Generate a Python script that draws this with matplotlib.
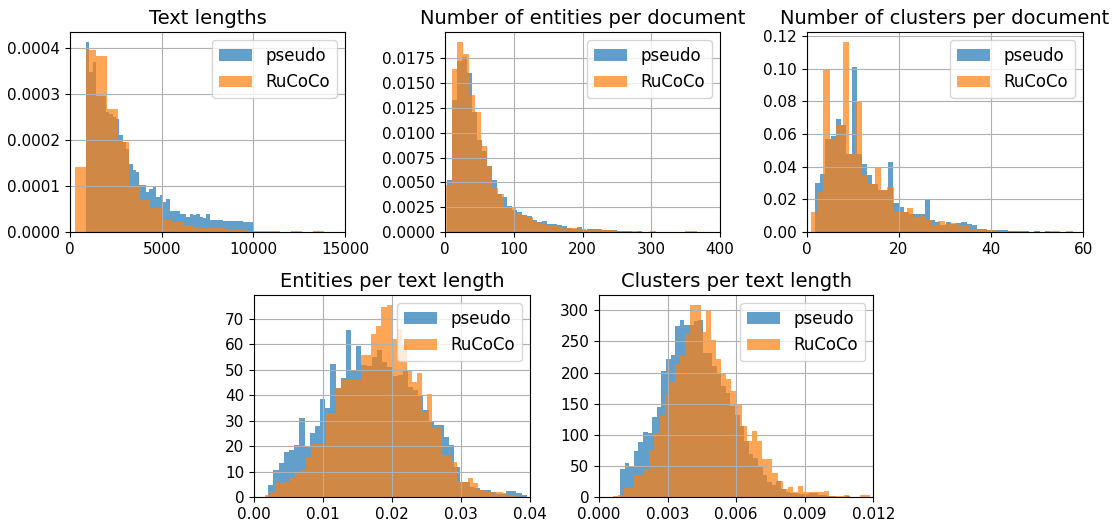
import numpy as np
import matplotlib
matplotlib.use("Agg")
import matplotlib.pyplot as plt

# bin heights (density histograms)
# text lengths
len_pseudo_start, len_pseudo_width = 862, 182.76
len_pseudo = np.array([
    4.14, 3.48, 3.70, 2.96, 2.96, 2.95, 2.60, 2.57, 2.50, 2.45,
    2.10, 1.96, 1.80, 1.48, 1.34, 1.30, 1.03, 1.03, 0.87, 0.93,
    0.98, 0.76, 0.80, 0.66, 0.71, 0.46, 0.46, 0.46, 0.39, 0.39,
    0.32, 0.40, 0.37, 0.39, 0.32, 0.31, 0.39, 0.25, 0.26, 0.25,
    0.26, 0.235, 0.235, 0.235, 0.235, 0.235, 0.235, 0.215, 0.215, 0.215]) * 1e-4
len_rucoco_start, len_rucoco_width = 258, 590
len_rucoco = np.array([
    1.41, 3.95, 3.83, 2.68, 1.96, 1.00, 0.69, 0.53, 0.264, 0.215,
    0.15, 0.107, 0.077, 0.077, 0.035, 0.035, 0.028, 0.028, 0.028, 0.0,
    0.028, 0.0, 0.028]) * 1e-4

# entities per document
ent_pseudo_start, ent_pseudo_width = 2.4, 7.3
ent_pseudo = [
    0.00525, 0.0133, 0.01726, 0.0176, 0.0160, 0.0121, 0.0093, 0.0082, 0.00668, 0.00529,
    0.0038, 0.0035, 0.0026, 0.0022, 0.0020, 0.0017, 0.0016, 0.0012, 0.0010, 0.0011,
    0.0008, 0.0008, 0.0007, 0.0006, 0.0004, 0.0003, 0.00055, 0.00025, 0.0003, 0.0003,
    0.0003, 0.0002, 0.0002, 0.0002, 0.00013, 0.00013, 0.00013, 0.0, 0.00013]
ent_rucoco_start, ent_rucoco_width = 1.0, 8.5
ent_rucoco = [
    0.00469, 0.0164, 0.0192, 0.0179, 0.01385, 0.0121, 0.0087, 0.0067, 0.0044, 0.0038,
    0.0025, 0.0024, 0.0019, 0.0016, 0.0015, 0.00105, 0.0008, 0.0006, 0.0006, 0.0005,
    0.0004, 0.0004, 0.0004, 0.0003, 0.00025, 0.00025, 0.0002, 0.0002, 0.0002, 0.00015,
    0.00013, 0.00013, 0.00013, 0.0, 0.0, 0.00013, 0.0, 0.0, 0.0, 0.0,
    0.0, 0.00013, 0.00013]

# clusters per document
clu_pseudo_start, clu_pseudo_width = 1.8, 1.1336
clu_pseudo = [
    0.030, 0.0352, 0.057, 0.0587, 0.0693, 0.0657, 0.0476, 0.1009, 0.048, 0.0416,
    0.0346, 0.0295, 0.026, 0.026, 0.0426, 0.0179, 0.0155, 0.0125, 0.011, 0.011,
    0.011, 0.0195, 0.0074, 0.0064, 0.0044, 0.0064, 0.005, 0.0055, 0.006, 0.0048,
    0.0044, 0.002, 0.002, 0.0015, 0.001, 0.001, 0.001, 0.0008, 0.0008, 0.0005,
    0.0005, 0.0, 0.0005, 0.0, 0.0005, 0.0, 0.0, 0.0, 0.0, 0.0]
clu_rucoco_start, clu_rucoco_width = 0.866, 1.386
clu_rucoco = [
    0.0125, 0.0245, 0.0995, 0.0567, 0.0657, 0.1166, 0.0476, 0.0802, 0.0346, 0.0295,
    0.040, 0.026, 0.0275, 0.012, 0.012, 0.0145, 0.009, 0.010, 0.0075, 0.0045,
    0.0065, 0.005, 0.0055, 0.004, 0.004, 0.002, 0.0015, 0.0015, 0.001, 0.0008,
    0.0008, 0.0008, 0.0008, 0.0, 0.0, 0.0, 0.0, 0.0008, 0.0008, 0.0,
    0.0008, 0.0]

# entities per text length
ept_pseudo_start, ept_pseudo_width = 0.002077, 0.000749
ept_pseudo = [
    4.8, 10.7, 13.6, 17.9, 18.5, 20.5, 31.3, 19.8, 25.4, 28,
    38.5, 35.2, 52.2, 43, 46.9, 65.7, 49.5, 59.3, 51.8, 51.4,
    55, 57.9, 53, 51, 47.5, 47.8, 49.5, 43.3, 42, 40,
    34.2, 29.6, 28.3, 28.3, 23.7, 20.5, 11.7, 6.1, 6.1, 4.2,
    3.5, 2.9, 2.9, 2.2, 1.3, 1.3, 2.5, 2.5, 1.8, 0.9]
ept_rucoco_start, ept_rucoco_width = 0.001594, 0.000734
ept_rucoco = [
    0.9, 2.2, 6.1, 5.5, 6.1, 7.4, 10, 10.7, 15.9, 20.9,
    20.9, 20.9, 32.9, 32.9, 43, 45.9, 45.9, 45.9, 45.9, 55.7,
    55.7, 64.1, 67.4, 74.8, 75.6, 62, 66, 59.6, 49.8, 45.2,
    48.8, 33.5, 40.4, 27.6, 27.6, 16.6, 16.6, 14, 6.1, 6.1,
    7.4, 5.5, 2.9, 2.5, 2, 2, 2, 1.6, 0.9, 0.9]

# clusters per text length
cpt_pseudo_start, cpt_pseudo_width = 0.000918, 0.0002012
cpt_pseudo = [
    45.6, 55.8, 49.4, 73.5, 88.5, 104.6, 103, 128.8, 144.8, 202,
    222, 228, 274.7, 284.3, 275.8, 277, 282.7, 284, 232, 231.8,
    210, 199.6, 178, 167, 147, 132.5, 113.7, 89.6, 69.7, 62.8,
    49.4, 36, 25.2, 19.9, 26.8, 12.9, 9.1, 7.5, 6.4, 5.4,
    5.4, 6.4, 6.4, 3.8, 3.8, 2.1, 2.1, 1.1, 1.1, 2.7]
cpt_rucoco_start, cpt_rucoco_width = 0.000627, 0.0002245
cpt_rucoco = [
    2.1, 3.8, 14.5, 14.5, 36, 36, 44, 76, 103, 132,
    165, 185, 214, 226, 262, 309, 309, 265, 298, 253,
    222, 198, 190, 170, 150, 114, 90, 106, 90, 62,
    62, 39, 26, 14, 17, 9, 18, 9, 8, 9,
    9, 10, 2.7, 2.7, 2.7, 3.8, 1.1, 1.1, 3.8, 3.8]

titles = ["Text lengths", "Number of entities per document", "Number of clusters per document",
          "Entities per text length", "Clusters per text length"]


def draw_hist(ax, start, width, heights, label):
    heights = np.asarray(heights)
    edges = start + width * np.arange(len(heights) + 1)
    ax.hist(edges[:-1], bins=edges, weights=heights, alpha=0.7, label=label)


fig = plt.figure(figsize=(11.2, 5.22), dpi=100)
W, H = 1120, 522
boxes = [(70, 32, 345, 232), (445, 32, 720, 232), (806.7, 32, 1083.3, 232),
         (254, 295, 530, 497.3), (599, 295, 873.3, 497.3)]
axes = [fig.add_axes([l / W, 1 - b / H, (r - l) / W, (b - t) / H]) for l, t, r, b in boxes]

panels = [
    (len_pseudo_start, len_pseudo_width, len_pseudo, len_rucoco_start, len_rucoco_width, len_rucoco),
    (ent_pseudo_start, ent_pseudo_width, ent_pseudo, ent_rucoco_start, ent_rucoco_width, ent_rucoco),
    (clu_pseudo_start, clu_pseudo_width, clu_pseudo, clu_rucoco_start, clu_rucoco_width, clu_rucoco),
    (ept_pseudo_start, ept_pseudo_width, ept_pseudo, ept_rucoco_start, ept_rucoco_width, ept_rucoco),
    (cpt_pseudo_start, cpt_pseudo_width, cpt_pseudo, cpt_rucoco_start, cpt_rucoco_width, cpt_rucoco),
]
xticks = [[0, 5000, 10000, 15000], [0, 100, 200, 300, 400], [0, 20, 40, 60],
          [0.0, 0.01, 0.02, 0.03, 0.04], [0.0, 0.003, 0.006, 0.009, 0.012]]
yticks = [np.arange(0, 0.00041, 0.0001), np.arange(0, 0.0176, 0.0025),
          np.arange(0, 0.121, 0.02), np.arange(0, 71, 10), np.arange(0, 301, 50)]

for ax, title, p, xt, yt in zip(axes, titles, panels, xticks, yticks):
    draw_hist(ax, p[0], p[1], p[2], "pseudo")
    draw_hist(ax, p[3], p[4], p[5], "RuCoCo")
    ax.set_title(title, fontsize=14)
    ax.set_xticks(xt)
    ax.set_xlim(xt[0], xt[-1])
    ax.set_yticks(yt)
    ax.grid(True)
    ax.tick_params(labelsize=11)
    ax.legend(loc="upper right", fontsize=12)

axes[4].set_xticklabels(["0.000", "0.003", "0.006", "0.009", "0.012"])

fig.savefig("out.png", dpi=100)
